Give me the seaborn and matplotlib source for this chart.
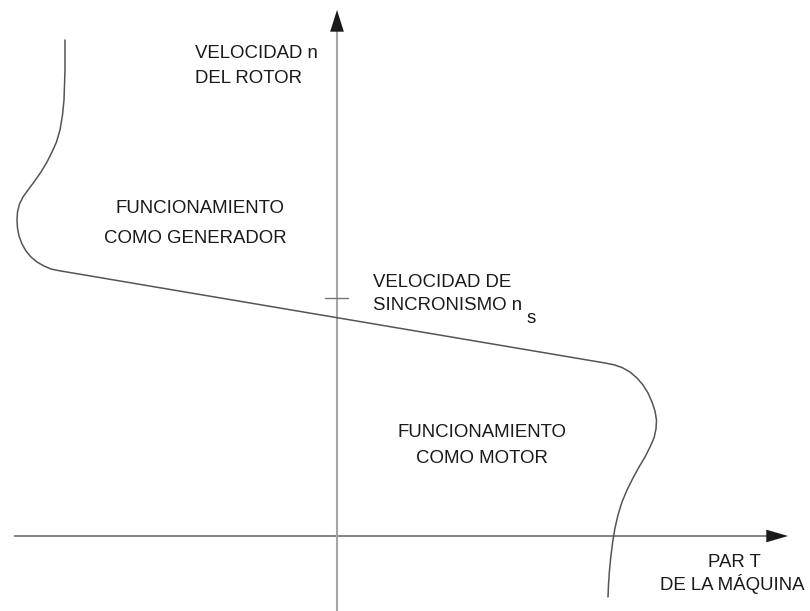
import matplotlib
matplotlib.use("Agg")
import matplotlib.pyplot as plt
import seaborn as sns
import pandas as pd

# Torque-speed characteristic (arbitrary units; origin at axes crossing)
torque = [-272, -272, -272, -272.5, -273, -274.5, -277, -280.5, -285, -290,
          -296, -303, -309, -314, -317.5, -319.5, -320, -319.5, -318, -315,
          -311, -306, -300, -293, -286, -279,
          268, 277, 285, 293, 300, 306, 311, 315, 318, 319.5, 319, 317, 313,
          308, 302, 296, 290, 285, 281, 278, 276, 274, 272.5, 271.5, 271]
speed = [496, 481, 466, 451, 436, 421, 406, 394, 384, 374,
         364, 354, 346, 339, 332, 324, 316, 308, 300, 292,
         285, 279, 274, 270, 267, 265.5,
         173, 171.2, 168.5, 164, 158, 151, 143, 134, 125, 116, 107, 98, 89,
         79, 69, 58, 46, 34, 21, 8, -4, -19, -34, -49, -61]
sync_speed = 238

df = pd.DataFrame({"T": torque, "n": speed})

sns.set_style("white")
plt.rcParams["font.family"] = ["Liberation Sans", "DejaVu Sans"]

fig = plt.figure(figsize=(8.1, 6.11), dpi=100)
ax = fig.add_axes([0, 0, 1, 1])

# axes lines
ax.plot([-323, 435], [0, 0], color="#6e6e6e", lw=1.2, solid_capstyle="butt", zorder=1)
ax.plot([0, 0], [-75, 512], color="#a5a5a5", lw=1.5, solid_capstyle="butt", zorder=1)
# arrowheads
ax.annotate("", xy=(451, 0), xytext=(430, 0),
            arrowprops=dict(arrowstyle="-|>,head_length=1.2,head_width=0.35",
                            color="#1a1a1a", lw=0.01, mutation_scale=13,
                            shrinkA=0, shrinkB=0), zorder=3)
ax.annotate("", xy=(0, 526), xytext=(0, 505),
            arrowprops=dict(arrowstyle="-|>,head_length=1.2,head_width=0.38",
                            color="#1a1a1a", lw=0.01, mutation_scale=13,
                            shrinkA=0, shrinkB=0), zorder=3)

# synchronous speed tick
ax.plot([-12, 11], [sync_speed, sync_speed], color="#777777", lw=1.0, zorder=2)

# curve
sns.lineplot(data=df, x="T", y="n", sort=False, estimator=None, ax=ax,
             color="#555555", linewidth=1.1, zorder=4)
ax.lines[-1].set_solid_joinstyle("round")
ax.set_xlim(-337, 473)
ax.set_ylim(-75, 536)
ax.axis("off")

fs = 13.4
tc = "#1a1a1a"
def txt(x, y, s, ha="left"):
    ax.text(x - 337, 536 - y, s, fontsize=fs, color=tc, ha=ha, va="baseline")

txt(195, 58, "VELOCIDAD n")
txt(195, 83, "DEL ROTOR")
txt(200, 213, "FUNCIONAMIENTO", ha="center")
txt(195, 243, "COMO GENERADOR", ha="center")
txt(373, 287, "VELOCIDAD DE")
txt(373, 310, "SINCRONISMO n")
txt(527, 323, "s")
txt(482, 437, "FUNCIONAMIENTO", ha="center")
txt(482, 463, "COMO MOTOR", ha="center")
txt(734, 567, "PAR T", ha="center")
txt(732, 590, "DE LA MÁQUINA", ha="center")

fig.savefig("out.png", dpi=100)
